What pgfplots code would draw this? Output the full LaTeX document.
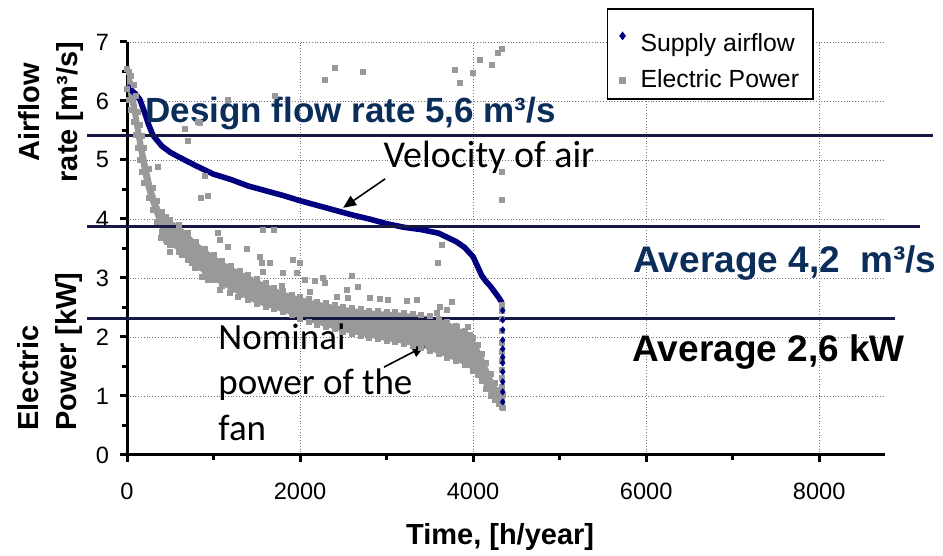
\documentclass[border=0pt]{standalone}
\usepackage{pgfplots}
\pgfplotsset{compat=1.18}
\usepackage{pgfplotstable}
\usepgfplotslibrary{fillbetween}
\usetikzlibrary{arrows.meta}
\usepackage{fontspec}
\setmainfont{Liberation Sans}
\newfontfamily\carlito{Carlito}
\definecolor{sblue}{RGB}{0,0,128}
\definecolor{pgray}{RGB}{153,153,153}
\definecolor{hline}{RGB}{24,24,68}
\definecolor{tnavy}{RGB}{10,45,90}

\pgfplotstableread{
x L U
0 6.20 6.55
25 6.02 6.50
50 5.85 6.42
75 5.65 6.28
100 5.42 6.08
125 5.20 5.82
150 5.00 5.60
175 4.80 5.40
200 4.62 5.20
250 4.36 4.85
300 4.15 4.52
350 3.95 4.30
400 3.78 4.12
450 3.65 4.03
500 3.56 3.98
600 3.44 3.90
700 3.30 3.76
800 3.17 3.62
900 3.06 3.50
1000 2.96 3.39
1100 2.87 3.29
1200 2.79 3.20
1300 2.71 3.12
1400 2.63 3.05
1500 2.56 2.98
1600 2.51 2.91
1700 2.47 2.84
1800 2.42 2.78
1900 2.37 2.72
2000 2.31 2.68
2100 2.26 2.64
2200 2.21 2.60
2300 2.17 2.57
2400 2.13 2.54
2500 2.09 2.51
2600 2.05 2.49
2700 2.02 2.47
2800 1.99 2.45
2900 1.96 2.44
3000 1.93 2.43
3100 1.91 2.42
3200 1.88 2.41
3300 1.85 2.39
3400 1.82 2.37
3500 1.77 2.35
3600 1.71 2.31
3700 1.65 2.26
3800 1.59 2.19
3900 1.52 2.10
4000 1.43 1.98
4050 1.36 1.86
4100 1.25 1.72
4150 1.12 1.56
4200 1.01 1.38
4250 0.93 1.22
4300 0.86 1.10
4340 0.80 1.02
}\band

\pgfplotstableread{
x y
358 4.88
393 3.68
462 3.61
497 3.44
636 3.39
670 5.53
705 5.32
751 3.25
786 3.17
820 5.64
844 5.63
855 4.36
867 3.02
902 4.73
936 4.39
936 2.97
1052 3.76
1075 3.64
1075 2.80
1168 3.53
1168 6.02
1191 2.75
1283 2.68
1387 3.49
1537 3.36
1561 3.25
1572 3.10
1572 3.81
1653 3.25
1700 3.81
1711 6.08
1792 2.86
1803 3.08
1919 3.31
1965 3.08
2000 3.25
2058 2.97
2115 2.76
2173 2.95
2266 3.00
2289 2.91
2289 6.36
2405 6.56
2428 2.68
2543 2.80
2555 2.66
2600 3.03
2670 2.85
2728 6.49
2810 2.66
2925 2.64
3017 2.63
3237 2.61
3353 2.63
3584 2.41
3595 3.25
3618 2.51
3640 3.56
3700 2.46
3757 2.59
3792 6.53
3815 2.17
3850 6.31
3884 2.08
3942 2.17
3965 2.03
4000 6.47
4081 6.69
4220 6.61
4290 6.81
4335 6.88
4335 4.80
4335 4.32
4338 2.54
4338 2.45
4338 2.30
4338 2.10
4338 1.90
4338 1.75
4338 1.60
4338 1.45
4338 1.30
4338 1.15
4338 1.00
4338 0.90
4338 0.82
}\outl

\pgfplotstableread{
x y
0 6.25
50 6.18
100 6.12
150 6.02
200 5.82
250 5.60
300 5.42
400 5.24
500 5.13
600 5.05
800 4.90
1000 4.76
1200 4.67
1400 4.56
1600 4.48
1800 4.40
2000 4.31
2200 4.23
2400 4.15
2600 4.07
2800 4.00
3000 3.92
3200 3.86
3400 3.82
3600 3.76
3800 3.62
3900 3.52
4000 3.36
4050 3.20
4100 3.04
4150 2.94
4200 2.86
4250 2.76
4300 2.66
4335 2.58
}\airflow

\pgfplotstableread{
x y
4342 2.45
4342 2.29
4342 2.12
4342 1.95
4342 1.80
4342 1.66
4342 1.56
4342 1.41
4342 1.24
4342 1.07
4342 0.90
}\airdots

\begin{document}
\begin{tikzpicture}
\begin{axis}[
  scale only axis, width=379pt, height=206.5pt,
  at={(0,0)}, anchor=south west,
  xmin=0, xmax=8760, ymin=0, ymax=7,
  axis x line=bottom, axis y line=left,
  axis line style={line width=1.5pt, -},
  xtick={0,2000,4000,6000,8000},
  ytick={0,1,...,7},
  minor x tick num=1, minor y tick num=1,
  tick align=outside,
  major tick length=3.5pt, minor tick length=2.5pt,
  every tick/.style={line width=1.5pt, black},
  grid=major,
  major grid style={densely dotted, black!55, line width=0.4pt},
  tick label style={font=\fontsize{11.8}{14}\selectfont},
  xticklabel style={yshift=-7pt},
  yticklabel style={xshift=-2pt},
  /pgf/number format/assume math mode=true,
  /pgf/number format/set thousands separator={},
  clip=false,
  legend style={at={(0.633,1.082)}, anchor=north west, draw=black,
    line width=0.75pt, font=\fontsize{12.4}{15}\selectfont,
    row sep=3.5pt, inner xsep=5pt, inner ysep=2pt},
  legend cell align=left,
  legend image code/.code={\draw[#1] plot coordinates {(2.5pt,0pt)}; \path[draw=none,fill=none] (0pt,0pt) -- (9.5pt,0pt);},
]
\addlegendimage{only marks, mark=diamond*, mark size=1.6pt, sblue}
\addlegendentry{\rule{0pt}{17.5pt}Supply airflow}
\addlegendimage{only marks, mark=square*, mark size=1.2pt, pgray}
\addlegendentry{Electric Power\hspace{15.5pt}}

% electric power band
\addplot[name path=L, draw=none, forget plot] table[x=x,y=L]{\band};
\addplot[name path=U, draw=none, forget plot] table[x=x,y=U]{\band};
\addplot[pgray, forget plot] fill between[of=U and L];
\addplot[only marks, mark=square*, mark size=1.25pt, pgray, forget plot] table[x=x,y=L]{\band};
\addplot[only marks, mark=square*, mark size=1.25pt, pgray, forget plot] table[x=x,y=U]{\band};
\addplot[only marks, mark=square*, mark size=1.25pt, pgray, forget plot] table[x=x,y=y]{\outl};

% supply airflow
\addplot[sblue, line width=2.8pt, forget plot] table[x=x,y=y]{\airflow};
\addplot[only marks, mark=diamond*, mark size=1.5pt, sblue, forget plot] table[x=x,y=y]{\airdots};

% reference lines
\addplot[hline, line width=1.5pt, forget plot] coordinates {(-462,5.41) (9318,5.41)};
\addplot[hline, line width=1.5pt, forget plot] coordinates {(-462,3.88) (9168,3.88)};
\addplot[hline, line width=1.5pt, forget plot] coordinates {(-462,2.31) (8879,2.31)};

% annotations
\node[anchor=base west, inner sep=0pt, text=tnavy, font=\fontsize{17.5}{20}\selectfont\bfseries] at (axis cs:208,5.64) {Design flow rate 5,6 m³/s};
\node[anchor=base west, inner sep=0pt, font=\carlito\fontsize{19}{22}\selectfont] at (axis cs:2960,4.88) {Velocity of air};
\node[anchor=base west, inner sep=0pt, text=tnavy, font=\fontsize{18.5}{21}\selectfont\bfseries] at (axis cs:5850,3.10) {Average 4,2~ m³/s};
\node[anchor=base west, inner sep=0pt, font=\fontsize{18.5}{21}\selectfont\bfseries] at (axis cs:5838,1.58) {Average 2,6 kW};
\node[anchor=base west, inner sep=0pt, font=\carlito\fontsize{18.5}{21}\selectfont] at (axis cs:1052,1.78) {Nominal};
\node[anchor=base west, inner sep=0pt, font=\carlito\fontsize{18.5}{21}\selectfont] at (axis cs:1052,1.02) {power of the};
\node[anchor=base west, inner sep=0pt, font=\carlito\fontsize{18.5}{21}\selectfont] at (axis cs:1052,0.25) {fan};
\draw[-{Triangle[length=6.5pt,width=5.5pt]}, line width=0.8pt] (axis cs:2983,4.68) -- (axis cs:2497,4.19);
\draw[-{Triangle[length=6.5pt,width=5.5pt]}, line width=0.8pt] (axis cs:2971,1.49) -- (axis cs:3445,1.85);

% axis titles
\node[rotate=90, align=center, inner sep=0pt, font=\fontsize{14.5}{19}\selectfont\bfseries] at (axis cs:-879,5.81) {Airflow\\rate [m³/s]};
\node[rotate=90, align=left, anchor=west, inner sep=0pt, font=\fontsize{14.5}{19}\selectfont\bfseries] at (axis cs:-890,0.41) {Electric\\Power [kW]};
\node[anchor=base, inner sep=0pt, font=\fontsize{14.5}{17}\selectfont\bfseries] at (axis cs:4312,-1.525) {Time, [h/year]};
\end{axis}
\pgfresetboundingbox
\path[use as bounding box] (-63.5pt,-50.5pt) rectangle (408pt,227.5pt);
\end{tikzpicture}
\end{document}
